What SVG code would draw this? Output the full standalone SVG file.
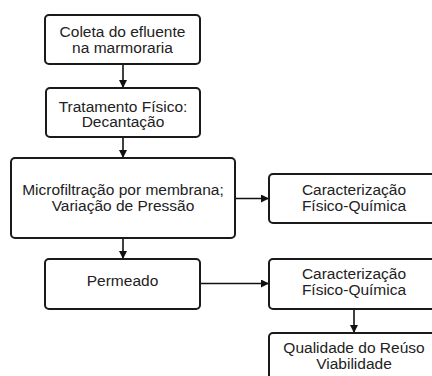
<svg xmlns="http://www.w3.org/2000/svg" width="432" height="376" viewBox="0 0 432 376">
<defs>
<marker id="ah" viewBox="0 0 10 10" refX="10" refY="5" markerWidth="8" markerHeight="8" markerUnits="userSpaceOnUse" orient="auto">
<path d="M0,0 L10,5 L0,10 z" fill="#111"/>
</marker>
<style>
.box{fill:#fff;stroke:#1a1a1a;stroke-width:2}
.t{font-family:"Liberation Sans",Arial,sans-serif;font-size:15.5px;fill:#222;text-anchor:middle}
.c{stroke:#111;stroke-width:1.6;fill:none;marker-end:url(#ah)}
</style>
</defs>
<rect width="432" height="376" fill="#fff"/>
<g id="connectors">
<line class="c" x1="123" y1="64" x2="123" y2="88"/>
<line class="c" x1="123" y1="137" x2="123" y2="158"/>
<line class="c" x1="235" y1="198.5" x2="269" y2="198.5"/>
<line class="c" x1="123" y1="238" x2="123" y2="259"/>
<line class="c" x1="200" y1="283.5" x2="269" y2="283.5"/>
<line class="c" x1="354" y1="309" x2="354" y2="333"/>
</g>
<g id="n1"><rect class="box" x="45" y="15" width="155" height="49" rx="4"/>
<text class="t" x="122.5" y="37">Coleta do efluente</text><text class="t" x="122.5" y="53">na marmoraria</text></g>
<g id="n2"><rect class="box" x="46" y="88" width="154" height="49" rx="4"/>
<text class="t" x="123" y="111.5">Tratamento Físico:</text><text class="t" x="123" y="127">Decantação</text></g>
<g id="n3"><rect class="box" x="11" y="158" width="224" height="80" rx="4"/>
<text class="t" x="123" y="194.5">Microfiltração por membrana;</text><text class="t" x="123" y="210.5">Variação de Pressão</text></g>
<g id="n4"><rect class="box" x="269" y="174" width="170" height="49" rx="4"/>
<text class="t" x="354" y="194.5">Caracterização</text><text class="t" x="354" y="210.5">Físico-Química</text></g>
<g id="n5"><rect class="box" x="45" y="259" width="155" height="50" rx="4"/>
<text class="t" x="122.5" y="286">Permeado</text></g>
<g id="n6"><rect class="box" x="269" y="259" width="170" height="50" rx="4"/>
<text class="t" x="354" y="279">Caracterização</text><text class="t" x="354" y="295">Físico-Química</text></g>
<g id="n7"><rect class="box" x="269" y="333" width="170" height="50" rx="4"/>
<text class="t" x="354" y="353">Qualidade do Reúso</text><text class="t" x="354" y="368.5">Viabilidade</text></g>
</svg>
